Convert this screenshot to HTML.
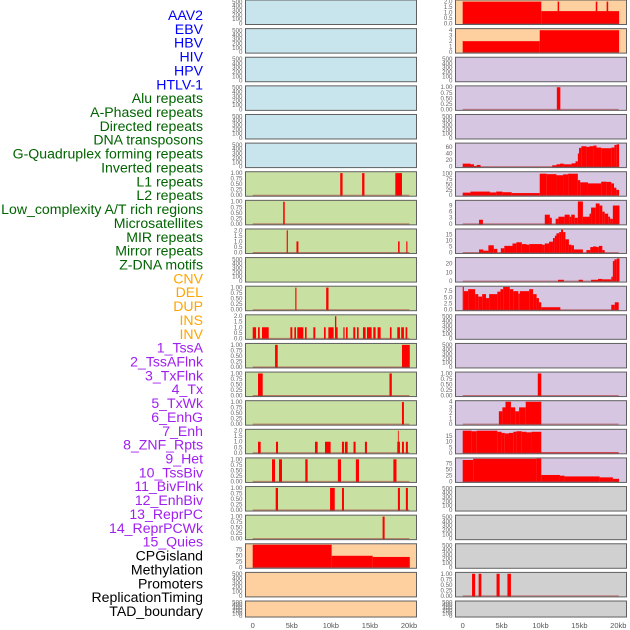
<!DOCTYPE html>
<html><head><meta charset="utf-8">
<style>
html,body{margin:0;padding:0;background:#fff;}
svg{display:block;font-family:"Liberation Sans",sans-serif;}
</style></head>
<body>
<svg id="chart" width="630" height="630" viewBox="0 0 630 630"></svg>
<script>
// Track labels and colours
const labels=["AAV2","EBV","HBV","HIV","HPV","HTLV-1","Alu repeats","A-Phased repeats","Directed repeats","DNA transposons","G-Quadruplex forming repeats","Inverted repeats","L1 repeats","L2 repeats","Low_complexity A/T rich regions","Microsatellites","MIR repeats","Mirror repeats","Z-DNA motifs","CNV","DEL","DUP","INS","INV","1_TssA","2_TssAFlnk","3_TxFlnk","4_Tx","5_TxWk","6_EnhG","7_Enh","8_ZNF_Rpts","9_Het","10_TssBiv","11_BivFlnk","12_EnhBiv","13_ReprPC","14_ReprPCWk","15_Quies","CPGisland","Methylation","Promoters","ReplicationTiming","TAD_boundary"];
const labelGroups=[6,13,5,15,5];
const groupColors=["#0000ff","#006400","#ffa500","#a020f0","#000000"];
const xTicks=[0,5,10,15,20];
const xTickLabels=["0","5kb","10kb","15kb","20kb"];

// Left column segments [startKb, endKb, value]
const segL6=[[11.2,11.5,1],[14.0,14.3,1],[18.25,19.1,1]];
const segL7=[[3.9,4.1,1]];
const segL8=[[4.35,4.5,2],[5.6,5.85,1],[18.6,18.8,1],[19.65,19.8,1]];
const segL10=[[5.45,5.6,1],[9.4,9.7,1]];
const segL11=[[0,0.43,1],[0.68,0.9,1],[1.19,2.05,1],[4.82,5.07,1],[5.33,5.54,1],[5.71,6.48,1],[6.69,6.9,1],[7.76,8.01,1],[9.12,9.34,1],[9.68,10.36,1],[10.53,10.7,2],[10.6,10.87,1],[11.6,11.76,1],[11.94,12.15,1],[12.87,13.13,1],[13.34,13.56,1],[14.11,14.45,1],[14.62,15.22,1],[15.43,15.73,1],[15.98,16.37,1],[17.56,17.77,1],[18.5,18.84,1],[19.0,19.35,1],[19.56,19.78,1]];
const segL12=[[2.86,3.2,1],[19.1,20.1,1]];
const segL13=[[0.68,1.28,1],[17.5,17.8,1]];
const segL14=[[19.1,19.35,1]];
const segL15=[[0.68,1.02,1],[2.98,3.24,1],[7.97,8.31,1],[9.25,9.97,1],[11.42,11.68,1],[11.8,12.15,1],[12.9,13.17,1],[14.36,14.62,1],[18.5,18.84,1],[18.58,18.67,2],[19.1,19.35,1],[19.6,19.86,1]];
const segL16=[[2.47,2.86,1],[3.37,3.75,1],[6.73,7.03,1],[10.9,11.3,1],[13.2,13.6,1],[18.0,18.4,1]];
const segL17=[[2.94,3.24,1],[9.9,10.5,1],[11.42,11.68,1],[18.58,18.84,1],[19.6,19.86,1]];
const segL18=[[16.62,16.88,1]];
const segL19=[[0,10.1,96],[10.1,15.35,49],[15.35,20.1,44]];

// Right column segments
const segR0=[[0,10.1,2],[10.1,20.1,1.13],[12.2,12.4,2],[17.1,17.3,2],[18.5,18.7,2]];
const segR1=[[0,9.9,2],[9.9,20.1,4]];
const segR3=[[12.1,12.55,1]];
const segR5=[[0,1.0,9],[1.0,1.45,7],[1.45,1.8,2],[1.8,2.3,5],[11.5,12.05,4],[12.05,12.5,7],[12.5,13.0,9],[13.0,14.0,7],[14.0,14.5,10],[14.5,14.8,16],[14.8,14.95,40],[14.95,15.25,57],[15.25,15.9,62],[15.9,16.3,60],[16.3,16.8,62],[16.8,17.2,64],[17.2,17.8,58],[17.8,19.1,56],[19.1,19.5,58],[19.5,19.8,66],[19.8,20.1,68]];
const segR6=[[0,1.0,12],[1.0,3.5,17],[3.5,4.3,13],[4.3,5.1,17],[5.1,6.3,14],[6.3,9.9,10],[9.9,10.8,100],[10.8,12.05,98],[12.05,12.9,93],[12.9,13.55,97],[13.55,14.8,100],[14.8,15.1,70],[15.1,16.1,60],[16.1,17.8,55],[17.8,18.5,63],[18.5,19.1,62],[19.1,19.45,55],[19.45,19.75,35],[19.75,20.1,25]];
const segR7=[[2.1,2.6,2],[10.55,11.2,4.5],[11.2,11.45,3],[11.95,12.3,2.5],[12.3,13.1,3.5],[13.1,13.75,4.5],[13.75,13.95,3.5],[13.95,14.4,4.5],[14.4,14.8,3],[14.8,15.45,11],[15.45,16.3,3.5],[16.3,16.5,5],[16.5,17.1,8],[17.1,17.6,10],[17.6,17.95,9],[17.95,18.25,6],[18.25,18.7,5],[18.7,18.95,3.5],[18.95,19.3,2.5],[19.3,20.15,9]];
const segR8=[[2.1,2.65,2.5],[2.65,3.3,1.5],[3.3,4.0,6],[4.0,4.45,3],[4.9,5.35,3.5],[5.35,6.4,5.5],[6.4,6.9,7.5],[6.9,7.6,8.5],[7.6,8.2,7],[8.2,8.55,6.5],[8.55,10.2,7],[10.2,10.55,6.5],[10.55,11.1,7.5],[11.1,11.6,9],[11.6,11.85,12],[11.85,12.05,14],[12.05,12.4,16],[12.4,12.65,17],[12.65,12.9,19],[12.9,13.2,17],[13.2,13.65,11],[13.65,13.95,6.5],[13.95,14.3,6],[14.3,15.45,2.5],[15.9,16.4,2],[16.4,16.75,4.5],[16.75,17.2,5],[17.2,17.5,4.5],[17.5,17.95,5.5],[17.95,18.25,2]];
const segR9=[[12.25,13.0,1.5],[14.9,15.45,1.5],[16.5,17.4,1.5],[17.4,17.95,2.5],[17.95,19.1,2],[19.1,19.3,5],[19.3,19.5,23],[19.5,19.8,25],[19.8,20.15,26]];
const segR10=[[0,0.15,9.2],[0.15,0.7,7.5],[0.7,1.6,8.3],[1.6,2.0,6.3],[2.0,2.5,5.3],[2.5,3.0,6.3],[3.0,3.4,4.7],[3.4,4.45,6.3],[4.45,4.85,7.3],[4.85,5.2,8.3],[5.2,6.05,9.2],[6.05,6.5,8.3],[6.5,7.15,7.5],[7.15,7.35,6.5],[7.35,8.55,7.5],[8.55,9.05,8.3],[9.05,9.5,6.3],[9.5,9.8,4.7],[9.8,10.1,3],[10.1,12.55,1],[19.1,19.55,2],[19.55,20.05,3]];
const segR13=[[9.65,10.1,1]];
const segR14=[[4.65,5.1,2.3],[5.1,5.5,3],[5.5,6.2,4],[6.2,6.75,3],[6.75,7.25,2.3],[7.25,8.1,3],[8.1,10.1,4]];
const segR15=[[0,1.15,20],[1.15,1.8,19.5],[1.8,4.45,20],[4.45,5.0,19],[5.0,5.4,18],[5.4,5.95,17.5],[5.95,6.5,18],[6.5,6.9,19],[6.9,7.6,19.5],[7.6,8.2,19],[8.2,8.85,18.5],[8.85,10.1,19],[10.1,20.05,0.4]];
const segR16=[[0,1.35,90],[1.35,9.5,95],[9.5,10.1,96],[10.1,12.5,27],[12.5,13.1,24],[13.1,17.6,21],[17.6,19.3,17],[19.3,20.1,11]];
const segR20=[[1.2,1.6,1],[2.05,2.4,1],[4.35,4.75,1],[5.75,6.2,1]];

// Y ticks per panel type
const tEmpty=[0,100,200,300,400,500];
const t01=[0,0.25,0.5,0.75,1];
const t02=[0,0.5,1,1.5,2];
const t04=[0,1,2,3,4];

// [segments, ticks, axisMax, decimals]
const leftPanels=[null,null,null,null,null,null,
 [segL6,t01,1.04,2],[segL7,t01,1.04,2],[segL8,t02,2.08,1],null,[segL10,t01,1.04,2],[segL11,t02,2.08,1],
 [segL12,t01,1.04,2],[segL13,t01,1.04,2],[segL14,t01,1.04,2],[segL15,t02,2.08,1],[segL16,t01,1.04,2],[segL17,t01,1.04,2],[segL18,t01,1.04,2],
 [segL19,[0,25,50,75],98,0],null,null];
const rightPanels=[[segR0,t02,2.1,1],[segR1,t04,4.2,0],null,[segR3,t01,1.04,2],null,
 [segR5,[0,20,40,60],70,0],[segR6,[0,25,50,75,100],107,0],[segR7,[0,3,6,9],11.3,0],[segR8,[0,5,10,15],19.2,0],
 [segR9,[0,10,20],26.5,0],[segR10,[0,2.5,5,7.5],9.3,1],null,null,[segR13,t01,1.04,2],[segR14,t04,4.1,0],
 [segR15,[0,5,10,15],20.8,0],[segR16,[0,25,50,75],96.5,0],null,null,null,[segR20,t01,1.04,2],null];

const leftBg=i=>i<6?"#c8e4ec":(i<19?"#c8e1a2":"#fecf9f");
const rightBg=i=>i<2?"#fecf9f":(i<17?"#d6c6e1":"#d0d0d0");

const NS="http://www.w3.org/2000/svg";
const svg=document.getElementById("chart");
function el(tag,attrs,parent){const e=document.createElementNS(NS,tag);for(const k in attrs)e.setAttribute(k,attrs[k]);(parent||svg).appendChild(e);return e;}

// labels
let idx=0;
labelGroups.forEach((n,g)=>{for(let k=0;k<n;k++){const t=el("text",{x:203,y:15+idx*13.86+5,"text-anchor":"end","font-size":"14.1",fill:groupColors[g]});


t.textContent=labels[idx];idx++;}});

const PITCH=28.62;
function panelTop(i){return i*PITCH;}
function panelH(i){return i===21?16:24.5;}

function drawColumn(panels,bgFn,x0,x1,zeroX,kbPx,colName){
 const xs=kb=>zeroX+kb*kbPx;
 for(let i=0;i<22;i++){
  const top=panelTop(i),h=panelH(i),bot=top+h;
  const g=el("g",{});
  
  
  el("rect",{x:x0,y:top,width:x1-x0,height:h,fill:bgFn(i)},g);
  const p=panels[i];
  let ticks,amax,dec;
  if(p){ticks=p[1];amax=p[2];dec=p[3];}else{ticks=tEmpty;amax=530;dec=0;}
  const ys=v=>bot-1-(v/amax)*(h-1.5);
  if(p){
   p[0].forEach(s=>{
    const r=el("rect",{x:xs(s[0]),y:ys(s[2]),width:Math.max(0.8,xs(s[1])-xs(s[0])),height:bot-1-ys(s[2])+0.5,fill:"#ff0000"},g);
    
    
   });
   el("line",{x1:xs(0),x2:xs(20.05),y1:bot-1,y2:bot-1,stroke:"rgba(170,50,50,0.6)","stroke-width":1},g);
  }
  el("rect",{x:x0,y:top,width:x1-x0,height:h,fill:"none",stroke:"#606060","stroke-width":1},g);
  ticks.forEach(v=>{
   const t=el("text",{x:x0-3,y:ys(v)+2,"text-anchor":"end","font-size":"6.2",fill:"#666"},g);
   
   
   t.textContent=v.toFixed(dec);
  });
 }
 xTicks.forEach((v,k)=>{
  const t=el("text",{x:xs(v),y:628,"text-anchor":"middle","font-size":"7.5",fill:"#555"});
  
  
  t.textContent=xTickLabels[k];
 });
}
drawColumn(leftPanels,leftBg,245.5,416.5,252.7,7.815,"left");
drawColumn(rightPanels,rightBg,455.5,626.5,462.7,7.78,"right");
</script>
</body></html>
